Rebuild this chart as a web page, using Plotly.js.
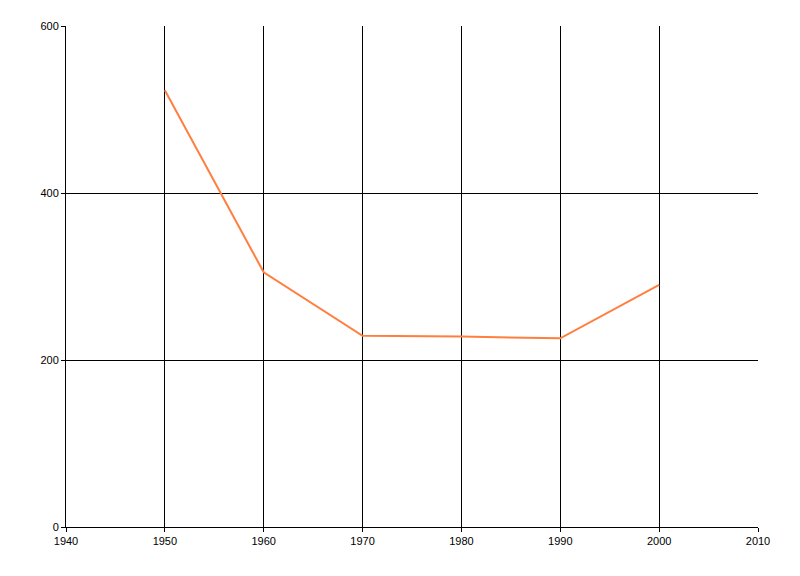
<!DOCTYPE html>
<html><head><meta charset="utf-8">
<script src="https://cdn.plot.ly/plotly-3.0.1.min.js"></script>
<style>html,body{margin:0;padding:0;background:#fff;}</style>
</head><body>
<div id="chart" style="width:800px;height:576px;"></div>
<script>
const years = [1950, 1960, 1970, 1980, 1990, 2000];
const values = [523, 305, 229, 228, 226, 290];
const xTicks = [1940, 1950, 1960, 1970, 1980, 1990, 2000, 2010];
const yTicks = [0, 200, 400, 600];

Plotly.newPlot('chart', [{
  x: years, y: values, type: 'scatter', mode: 'lines',
  line: {color: '#FF7F3F', width: 2}, hoverinfo: 'none'
}], {
  width: 800, height: 576,
  margin: {l: 66, r: 42, t: 26, b: 49},
  paper_bgcolor: '#fff', plot_bgcolor: '#fff',
  font: {family: 'Liberation Sans, Arial, sans-serif', size: 11, color: '#000'},
  showlegend: false,
  xaxis: {
    range: [1940, 2010], tickvals: xTicks, ticktext: xTicks.map(String),
    showgrid: true, gridcolor: '#000', gridwidth: 1,
    showline: true, linecolor: '#000', linewidth: 1,
    ticks: 'outside', ticklen: 4, tickcolor: '#000',
    zeroline: false, fixedrange: true, tickfont: {size: 11}
  },
  yaxis: {
    range: [0, 600], tickvals: yTicks, ticktext: yTicks.map(String),
    showgrid: true, gridcolor: '#000', gridwidth: 1,
    showline: true, linecolor: '#000', linewidth: 1,
    ticks: 'outside', ticklen: 4, tickcolor: '#000',
    zeroline: false, fixedrange: true, tickfont: {size: 11}
  }
}, {displayModeBar: false, staticPlot: true});
</script>
</body></html>
